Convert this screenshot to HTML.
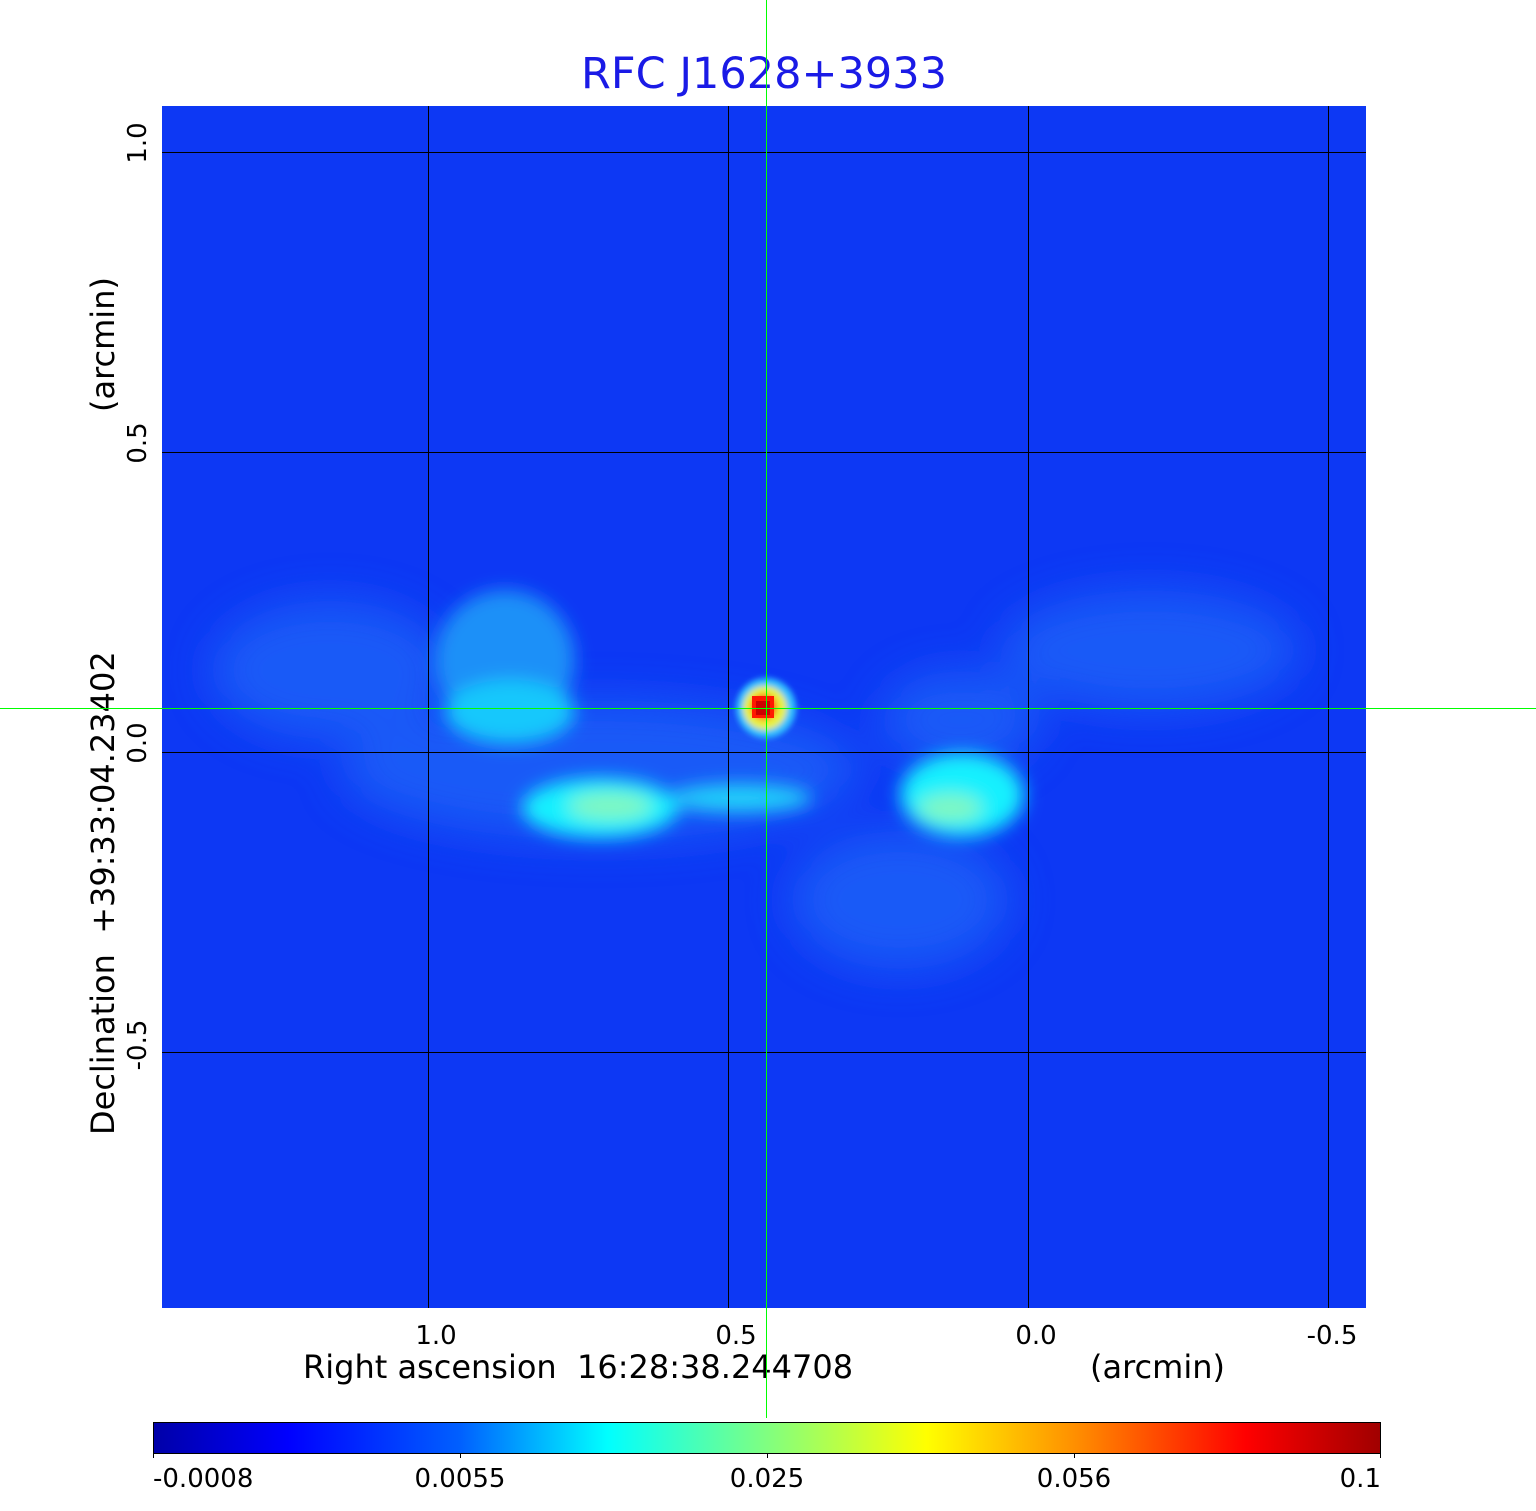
<!DOCTYPE html>
<html><head><meta charset="utf-8"><style>
body{margin:0;background:#fff;}
svg{display:block;font-family:"DejaVu Sans","Liberation Sans",sans-serif;}
text{white-space:pre;}
</style></head><body>
<svg width="1536" height="1511" viewBox="0 0 1536 1511" xml:space="preserve">
<defs>
<filter id="b1" x="-50%" y="-50%" width="200%" height="200%"><feGaussianBlur stdDeviation="22"/></filter>
<filter id="b2" x="-50%" y="-50%" width="200%" height="200%"><feGaussianBlur stdDeviation="9"/></filter>
<filter id="b3" x="-50%" y="-50%" width="200%" height="200%"><feGaussianBlur stdDeviation="3"/></filter>
<linearGradient id="cb" x1="0" x2="1" y1="0" y2="0">
<stop offset="0" stop-color="#0000a8"/>
<stop offset="0.11" stop-color="#0000ff"/>
<stop offset="0.25" stop-color="#0060ff"/>
<stop offset="0.37" stop-color="#00ffff"/>
<stop offset="0.5" stop-color="#80ff80"/>
<stop offset="0.63" stop-color="#ffff00"/>
<stop offset="0.75" stop-color="#ff9000"/>
<stop offset="0.89" stop-color="#ff0000"/>
<stop offset="1" stop-color="#a00000"/>
</linearGradient>
<clipPath id="cp"><rect x="162" y="106" width="1204" height="1202"/></clipPath>
</defs>
<text x="764" y="88" font-size="43" fill="#1a1ae6" text-anchor="middle">RFC J1628+3933</text>
<g clip-path="url(#cp)">
<rect x="162" y="106" width="1204" height="1202" fill="#0d38f4"/>
<g filter="url(#b1)" fill="#1a60f8" opacity="0.85">
<ellipse cx="330" cy="670" rx="120" ry="70"/>
<ellipse cx="1150" cy="650" rx="150" ry="60"/>
<ellipse cx="900" cy="900" rx="110" ry="70"/>
<ellipse cx="600" cy="770" rx="260" ry="70"/>
<ellipse cx="960" cy="720" rx="80" ry="50"/>
</g>
<g filter="url(#b2)">
<ellipse cx="505" cy="660" rx="70" ry="70" fill="#1a90f8"/>
<ellipse cx="510" cy="712" rx="65" ry="32" fill="#18c8fc"/>
<ellipse cx="600" cy="808" rx="78" ry="30" fill="#18f0fe"/>
<ellipse cx="610" cy="806" rx="42" ry="14" fill="#80f8c0"/>
<ellipse cx="740" cy="798" rx="72" ry="14" fill="#20d0fa"/>
<ellipse cx="962" cy="795" rx="62" ry="42" fill="#18f0fe"/>
<ellipse cx="950" cy="808" rx="32" ry="14" fill="#80f8c0"/>
</g>
<g filter="url(#b3)">
<circle cx="766" cy="708" r="30" fill="#30c0ff"/>
<circle cx="765" cy="708" r="22" fill="#e8f040"/>
<circle cx="764" cy="707" r="13" fill="#ff7000"/>
</g>
<rect x="752" y="696" width="22" height="22" fill="#ff1800"/>
<rect x="756" y="701" width="14" height="14" fill="#cc0000"/>
<g stroke="#000" stroke-width="1">
<line x1="428.5" y1="106" x2="428.5" y2="1308"/>
<line x1="728.5" y1="106" x2="728.5" y2="1308"/>
<line x1="1028.5" y1="106" x2="1028.5" y2="1308"/>
<line x1="1328.5" y1="106" x2="1328.5" y2="1308"/>
<line x1="162" y1="152.5" x2="1366" y2="152.5"/>
<line x1="162" y1="452.5" x2="1366" y2="452.5"/>
<line x1="162" y1="752.5" x2="1366" y2="752.5"/>
<line x1="162" y1="1052.5" x2="1366" y2="1052.5"/>
</g>
</g>
<g font-size="26" fill="#000" text-anchor="middle">
<text x="436" y="1344">1.0</text>
<text x="736" y="1344">0.5</text>
<text x="1036" y="1344">0.0</text>
<text x="1332" y="1344">-0.5</text>
<text transform="translate(146,143) rotate(-90)">1.0</text>
<text transform="translate(146,443) rotate(-90)">0.5</text>
<text transform="translate(146,743) rotate(-90)">0.0</text>
<text transform="translate(146,1045) rotate(-90)">-0.5</text>
</g>
<g font-size="32" fill="#000">
<text x="303" y="1378">Right ascension  16:28:38.244708</text>
<text x="1090" y="1378">(arcmin)</text>
<text transform="translate(114,1135) rotate(-90)">Declination  +39:33:04.23402</text>
<text transform="translate(114,412) rotate(-90)">(arcmin)</text>
</g>
<rect x="153.5" y="1422.5" width="1227" height="31" fill="url(#cb)" stroke="#000" stroke-width="1"/>
<g stroke="#000"><line x1="153.5" y1="1453" x2="153.5" y2="1458"/><line x1="460.5" y1="1453" x2="460.5" y2="1458"/><line x1="767.5" y1="1453" x2="767.5" y2="1458"/><line x1="1074.5" y1="1453" x2="1074.5" y2="1458"/><line x1="1380.5" y1="1453" x2="1380.5" y2="1458"/></g>
<g font-size="26" fill="#000">
<text x="153" y="1487">-0.0008</text>
<text x="460" y="1487" text-anchor="middle">0.0055</text>
<text x="767" y="1487" text-anchor="middle">0.025</text>
<text x="1074" y="1487" text-anchor="middle">0.056</text>
<text x="1381" y="1487" text-anchor="end">0.1</text>
</g>
<g stroke="#00ff00" stroke-width="1">
<line x1="766.5" y1="0" x2="766.5" y2="1418"/>
<line x1="0" y1="708.5" x2="1536" y2="708.5"/>
</g>
</svg>
</body></html>
